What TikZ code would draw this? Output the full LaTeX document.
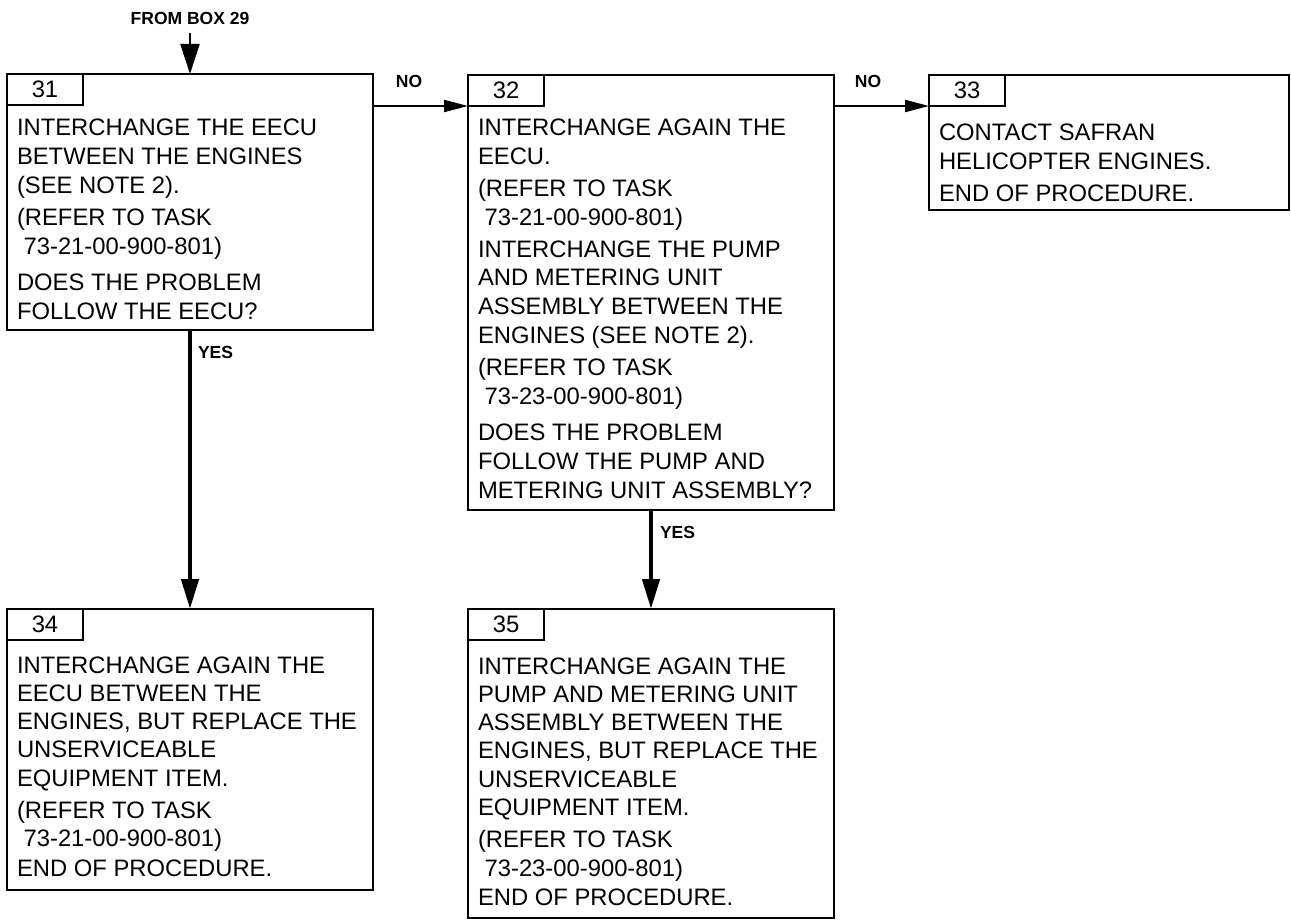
\documentclass[tikz,border=0pt]{standalone}
\usepackage{fontspec}
\setmainfont{Liberation Sans}
\usetikzlibrary{arrows.meta}
\begin{document}
\begin{tikzpicture}[x=1pt,y=-1pt,
  frame/.style={draw, line width=2pt, inner sep=0pt, outer sep=0pt, anchor=north west, minimum width=366pt},
  tabbox/.style={draw, line width=2pt, inner sep=0pt, outer sep=0pt, anchor=north west, minimum width=76pt, minimum height=31pt, font=\fontsize{23.8}{28.8}\selectfont},
  body/.style={inner sep=0pt, outer sep=0pt, anchor=base west, font=\fontsize{23.8}{28.8}\selectfont},
  bodylow/.style={inner sep=0pt, outer sep=0pt, anchor=base west, font=\fontsize{23.8}{28.3}\selectfont},
  lbl/.style={inner sep=0pt, outer sep=0pt, font=\fontsize{17.5}{20}\selectfont\bfseries},
  inarrow/.style={line width=2pt, -{Triangle[length=30pt,width=19pt]}},
  noarrow/.style={line width=2pt, -{Triangle[length=24pt,width=12pt]}},
  yesarrow/.style={line width=4.5pt, -{Triangle[length=30pt,width=17pt]}},
]
\useasboundingbox (0,0) rectangle (1291,920);

% boxes
\node[frame, minimum height=256pt] (b31) at (7,74) {};
\node[tabbox] (t31) at (b31.north west) {31};
\node[frame, minimum height=435pt] (b32) at (468,75) {};
\node[tabbox] (t32) at (b32.north west) {32};
\node[frame, minimum width=360pt, minimum height=135pt] (b33) at (929,75) {};
\node[tabbox] (t33) at (b33.north west) {33};
\node[frame, minimum height=281pt] (b34) at (7,609) {};
\node[tabbox] (t34) at (b34.north west) {34};
\node[frame, minimum height=309pt] (b35) at (468,609) {};
\node[tabbox] (t35) at (b35.north west) {35};

% texts
\node[body] (x31) at (17,136) {\begin{tabular}[t]{@{}l@{}}INTERCHANGE THE EECU\\BETWEEN THE ENGINES\\(SEE NOTE 2).\\[3pt](REFER TO TASK\\\ 73-21-00-900-801)\\[8pt]DOES THE PROBLEM\\FOLLOW THE EECU?\end{tabular}};
\node[body] (x32) at (478,136) {\begin{tabular}[t]{@{}l@{}}INTERCHANGE AGAIN THE\\EECU.\\[3pt](REFER TO TASK\\\ 73-21-00-900-801)\\[3pt]INTERCHANGE THE PUMP\\AND METERING UNIT\\ASSEMBLY BETWEEN THE\\ENGINES (SEE NOTE 2).\\[3pt](REFER TO TASK\\\ 73-23-00-900-801)\\[8pt]DOES THE PROBLEM\\FOLLOW THE PUMP AND\\METERING UNIT ASSEMBLY?\end{tabular}};
\node[body] (x33) at (939,141) {\begin{tabular}[t]{@{}l@{}}CONTACT SAFRAN\\HELICOPTER ENGINES.\\[3pt]END OF PROCEDURE.\end{tabular}};
\node[bodylow] (x34) at (17,673) {\begin{tabular}[t]{@{}l@{}}INTERCHANGE AGAIN THE\\EECU BETWEEN THE\\ENGINES, BUT REPLACE THE\\UNSERVICEABLE\\EQUIPMENT ITEM.\\[4pt](REFER TO TASK\\\ 73-21-00-900-801)\\[1pt]END OF PROCEDURE.\end{tabular}};
\node[bodylow] (x35) at (478,674) {\begin{tabular}[t]{@{}l@{}}INTERCHANGE AGAIN THE\\PUMP AND METERING UNIT\\ASSEMBLY BETWEEN THE\\ENGINES, BUT REPLACE THE\\UNSERVICEABLE\\EQUIPMENT ITEM.\\[4pt](REFER TO TASK\\\ 73-23-00-900-801)\\[1pt]END OF PROCEDURE.\end{tabular}};

% labels
\node[lbl, anchor=base] (f29) at (190,25) {FROM BOX 29};
\node[lbl, anchor=base] (no1) at (409,88) {NO};
\node[lbl, anchor=base] (no2) at (868,88) {NO};
\node[lbl, anchor=base west] (yes1) at (198,358) {YES};
\node[lbl, anchor=base west] (yes2) at (660,538) {YES};

% connectors
\draw[inarrow, shorten <=8pt] (f29) -- (b31.north);
\draw[noarrow] (b31.east |- t32.south) -- (t32.south west);
\draw[noarrow] (b32.east |- t33.south) -- (t33.south west);
\draw[yesarrow] (b31.south) -- (b34.north);
\draw[yesarrow] (b32.south) -- (b35.north);
\end{tikzpicture}
\end{document}
